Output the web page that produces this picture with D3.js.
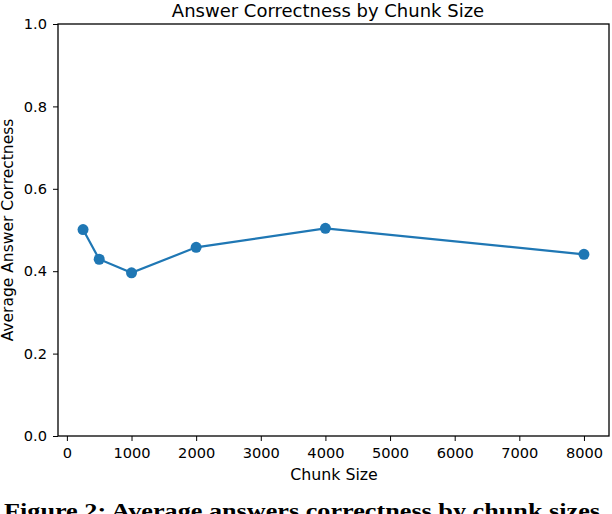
<!DOCTYPE html>
<html>
<head>
<meta charset="utf-8">
<script src="https://cdn.jsdelivr.net/npm/d3@7"></script>
<style>
  html, body { margin: 0; padding: 0; background: #fff; overflow: hidden; }
  svg { display: block; }
</style>
</head>
<body>
<div id="chart"></div>
<script>
// chart values
const chunkSizes = [250, 500, 1000, 2000, 4000, 8000];
const correctness = [0.501, 0.429, 0.396, 0.458, 0.504, 0.441];
const xTicks = [0, 1000, 2000, 3000, 4000, 5000, 6000, 7000, 8000];
const yTicks = [0.0, 0.2, 0.4, 0.6, 0.8, 1.0];

const chartTitle = "Answer Correctness by Chunk Size";
const xLabel = "Chunk Size";
const yLabel = "Average Answer Correctness";
const caption = "Figure 2: Average answers correctness by chunk sizes";

const width = 612, height = 514;
const margin = { left: 58, right: 3, top: 24, bottom: 78 };
const color = "#1f77b4";
const sans = "'DejaVu Sans', sans-serif";

const svg = d3.select("#chart").append("svg")
  .attr("width", width)
  .attr("height", height);

// matplotlib-style 5% padding around data on x
const xMin = d3.min(chunkSizes), xMax = d3.max(chunkSizes);
const pad = (xMax - xMin) * 0.05;

const x = d3.scaleLinear()
  .domain([xMin - pad, xMax + pad])
  .range([margin.left, width - margin.right]);

const y = d3.scaleLinear()
  .domain([0, 1])
  .range([height - margin.bottom, margin.top]);

const xAxis = svg.append("g")
  .attr("transform", `translate(0,${height - margin.bottom})`)
  .call(d3.axisBottom(x).tickValues(xTicks).tickFormat(d3.format("d")).tickSize(5).tickPadding(7));

const yAxis = svg.append("g")
  .attr("transform", `translate(${margin.left},0)`)
  .call(d3.axisLeft(y).tickValues(yTicks).tickFormat(d3.format(".1f")).tickSize(5).tickPadding(6));

[xAxis, yAxis].forEach(a => {
  a.select(".domain").remove();
  a.selectAll("line").attr("stroke", "#000").attr("stroke-width", 1);
  a.selectAll("text")
    .style("font-family", sans)
    .style("font-size", "14.6px")
    .attr("fill", "#000");
});

// frame
svg.append("rect")
  .attr("x", margin.left)
  .attr("y", margin.top)
  .attr("width", width - margin.right - margin.left)
  .attr("height", height - margin.bottom - margin.top)
  .attr("fill", "none")
  .attr("stroke", "#000")
  .attr("stroke-width", 1.3);

const pts = chunkSizes.map((c, i) => ({ c, v: correctness[i] }));

const line = d3.line()
  .x(d => x(d.c))
  .y(d => y(d.v));

svg.append("path")
  .datum(pts)
  .attr("d", line)
  .attr("fill", "none")
  .attr("stroke", color)
  .attr("stroke-width", 2.2);

svg.selectAll("circle.pt")
  .data(pts)
  .join("circle")
  .attr("class", "pt")
  .attr("cx", d => x(d.c))
  .attr("cy", d => y(d.v))
  .attr("r", 5.5)
  .attr("fill", color);

// titles
svg.append("text")
  .attr("x", 328)
  .attr("y", 16.5)
  .attr("text-anchor", "middle")
  .style("font-family", sans)
  .style("font-size", "18px")
  .text(chartTitle);

svg.append("text")
  .attr("x", 334)
  .attr("y", 480)
  .attr("text-anchor", "middle")
  .style("font-family", sans)
  .style("font-size", "15.8px")
  .text(xLabel);

svg.append("text")
  .attr("transform", `translate(12.5,${(margin.top + height - margin.bottom) / 2}) rotate(-90)`)
  .attr("text-anchor", "middle")
  .style("font-family", sans)
  .style("font-size", "15.5px")
  .text(yLabel);

svg.append("text")
  .attr("x", 4)
  .attr("y", 518)
  .style("font-family", "'Liberation Serif', serif")
  .style("font-weight", "bold")
  .style("font-size", "21px")
  .attr("textLength", 596)
  .attr("lengthAdjust", "spacingAndGlyphs")
  .text(caption);
</script>
</body>
</html>
